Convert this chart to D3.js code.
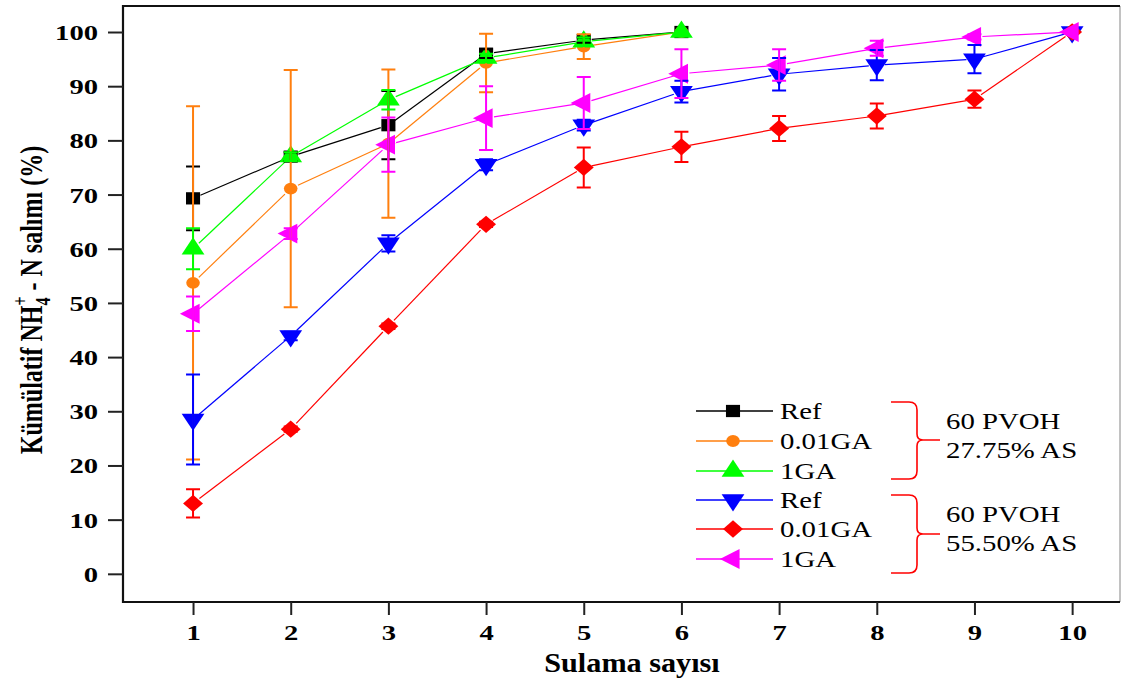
<!DOCTYPE html>
<html>
<head>
<meta charset="utf-8">
<script src="https://cdn.jsdelivr.net/npm/d3@7"></script>
<style>
	body { margin: 0; background: #fff; }
	svg { display: block; }
	text { font-family: "Liberation Serif", "Times New Roman", serif; fill: #000; }
</style>
</head>
<body>
<div id="chart"></div>
<script>
// x categories (irrigation count) and y ticks
var sulama = [1, 2, 3, 4, 5, 6, 7, 8, 9, 10];
var yTicks = [0, 10, 20, 30, 40, 50, 60, 70, 80, 90, 100];

// 60 PVOH 27.75% AS (only 6 irrigations)
var refA = [69.3, 77.0, 82.8, 96.0, 98.5, 100];
var refAErr = [5.9, 0.8, 6.3, 0.8, 0.5, 0];
var ga001A = [53.7, 71.1, 79.4, 94.3, 97.3, 100];
var ga001AErr = [32.6, 21.9, 13.7, 5.4, 2.3, 0];
var ga1A = [60.0, 77.0, 87.5, 95.2, 98.2, 100];
var ga1AErr = [3.8, 0.8, 1.8, 0.8, 0.8, 0];

// 60 PVOH 55.50% AS
var refB = [28.5, 43.9, 61.0, 75.5, 82.8, 89.0, 92.2, 93.9, 95.0, 100];
var refBErr = [8.3, 0.8, 1.5, 1.0, 1.0, 2.0, 3.0, 2.8, 2.6, 0];
var ga001B = [13.0, 26.7, 45.7, 64.5, 75.0, 78.8, 82.2, 84.5, 87.6, 100];
var ga001BErr = [2.6, 0.5, 0.5, 0.5, 3.7, 2.8, 2.3, 2.3, 1.6, 0];
var ga1B = [48.0, 62.8, 79.2, 84.1, 86.9, 92.3, 93.9, 97.0, 99.1, 100];
var ga1BErr = [3.2, 1.0, 5.0, 5.9, 4.8, 4.5, 2.9, 1.4, 0.5, 0];

var series = [
	{name: "Ref", vals: refA, err: refAErr, color: "#000000", sym: d3.symbolSquare, size: 150, rot: 0},
	{name: "0.01GA", vals: ga001A, err: ga001AErr, color: "#ff7f0e", sym: d3.symbolCircle, size: 110, rot: 0},
	{name: "1GA", vals: ga1A, err: ga1AErr, color: "#00ff00", sym: d3.symbolTriangle, size: 170, rot: 0},
	{name: "Ref", vals: refB, err: refBErr, color: "#0000ff", sym: d3.symbolTriangle, size: 170, rot: 180},
	{name: "0.01GA", vals: ga001B, err: ga001BErr, color: "#ff0000", sym: d3.symbolSquare, size: 150, rot: 45},
	{name: "1GA", vals: ga1B, err: ga1BErr, color: "#ff00ff", sym: d3.symbolTriangle, size: 170, rot: -90}
];

var W = 1123, H = 679;
var plot = {left: 123, top: 6, right: 1120, bottom: 602};

var svg = d3.select("#chart").append("svg").attr("width", W).attr("height", H);

var x = d3.scaleLinear().domain([0.283, 10.49]).range([plot.left, plot.right]);
var y = d3.scaleLinear().domain([-5.2, 104.8]).range([plot.bottom, plot.top]);

// frame
svg.append("line").attr("x1", plot.right).attr("x2", plot.right).attr("y1", plot.top).attr("y2", plot.bottom)
	.attr("stroke", "#999").attr("stroke-width", 1.2);
svg.append("path")
	.attr("d", "M" + plot.right + "," + plot.top + "H" + plot.left + "V" + plot.bottom + "H" + plot.right)
	.attr("fill", "none").attr("stroke", "#111").attr("stroke-width", 2.2);

// axes
var yAxis = svg.append("g").attr("transform", "translate(" + plot.left + ",0)")
	.call(d3.axisLeft(y).tickValues(yTicks).tickSize(15).tickFormat(d3.format("d")));
var xAxis = svg.append("g").attr("transform", "translate(0," + plot.bottom + ")")
	.call(d3.axisBottom(x).tickValues(sulama).tickSize(13).tickFormat(d3.format("d")));

[xAxis, yAxis].forEach(function(g) {
	g.select(".domain").remove();
	g.selectAll(".tick line").attr("stroke", "#222").attr("stroke-width", 2);
	g.selectAll(".tick text").attr("fill", "#000")
		.style("font-family", '"Liberation Serif", serif')
		.style("font-weight", "bold").style("font-size", "22px");
});
yAxis.selectAll(".tick text").attr("x", 0).attr("dy", "0.34em")
	.attr("transform", "translate(-25,0) scale(1.3,1)");
xAxis.selectAll(".tick text").attr("y", 38).attr("dy", 0)
	.attr("transform", "scale(1.3,1)");

// axis titles
svg.append("text").attr("text-anchor", "middle")
	.attr("transform", "translate(632,672) scale(1.08,1)")
	.style("font-weight", "bold").style("font-size", "28px").text("Sulama sayısı");

var yl = svg.append("text").attr("text-anchor", "middle")
	.attr("transform", "translate(42,300) rotate(-90) scale(1,1.35)")
	.style("font-weight", "bold").style("font-size", "24px");
yl.append("tspan").text("Kümülatif NH");
yl.append("tspan").attr("dy", 6).style("font-size", "16px").text("4");
yl.append("tspan").attr("dx", -8).attr("dy", -17).style("font-size", "16px").text("+");
yl.append("tspan").attr("dy", 11).text(" - N salımı (%)");

function symbolPath(s) {
	return d3.symbol().type(s.sym).size(s.size)();
}

// connecting lines (with small gaps around the symbols)
var gap = 8;
series.forEach(function(s) {
	var pts = s.vals.map(function(v, i) { return [x(sulama[i]), y(v)]; });
	var segs = [];
	for (var i = 0; i < pts.length - 1; i++) {
		var p0 = pts[i], p1 = pts[i + 1];
		var dx = p1[0] - p0[0], dy = p1[1] - p0[1];
		var d = Math.sqrt(dx * dx + dy * dy);
		if (d <= 2 * gap) continue;
		segs.push([p0[0] + dx / d * gap, p0[1] + dy / d * gap, p1[0] - dx / d * gap, p1[1] - dy / d * gap]);
	}
	svg.append("g").selectAll("line").data(segs).enter().append("line")
		.attr("x1", d => d[0]).attr("y1", d => d[1]).attr("x2", d => d[2]).attr("y2", d => d[3])
		.attr("stroke", s.color).attr("stroke-width", 1.2);
});

// markers
series.forEach(function(s) {
	svg.append("g").selectAll("path").data(s.vals).enter().append("path")
		.attr("d", symbolPath(s))
		.attr("transform", (v, i) => "translate(" + x(sulama[i]) + "," + y(v) + ") scale(1.15,1) rotate(" + s.rot + ")")
		.attr("fill", s.color);
});

// error bars on top
series.forEach(function(s) {
	var g = svg.append("g").attr("stroke", s.color).attr("stroke-width", 2).attr("fill", "none");
	s.vals.forEach(function(v, i) {
		var e = s.err[i];
		if (!e) return;
		var cx = x(sulama[i]), hi = y(v + e), lo = y(v - e);
		g.append("path").attr("d",
			"M" + cx + "," + hi + "V" + lo +
			"M" + (cx - 7) + "," + hi + "H" + (cx + 7) +
			"M" + (cx - 7) + "," + lo + "H" + (cx + 7));
	});
});

// legend
var legendY = [411, 441, 471, 500, 529, 559];
var leg = svg.append("g");
series.forEach(function(s, i) {
	var ly = legendY[i];
	leg.append("line").attr("x1", 696).attr("x2", 773).attr("y1", ly).attr("y2", ly)
		.attr("stroke", s.color).attr("stroke-width", 1.4);
	leg.append("path").attr("d", symbolPath(s))
		.attr("transform", "translate(733," + ly + ") scale(1.15,1) rotate(" + s.rot + ")")
		.attr("fill", s.color);
	leg.append("text").attr("transform", "translate(780," + (ly + 8) + ") scale(1.2,1)")
		.style("font-size", "24px").text(s.name);
});

// group braces
var groups = [
	{top: 402, mid: 440, bottom: 479, lines: ["60 PVOH", "27.75% AS"], ty: [429, 458]},
	{top: 495, mid: 534, bottom: 573, lines: ["60 PVOH", "55.50% AS"], ty: [522, 551]}
];
groups.forEach(function(gr) {
	var bx = 917;
	leg.append("path")
		.attr("d", "M891," + gr.top + "H" + (bx - 8) + "Q" + bx + "," + gr.top + " " + bx + "," + (gr.top + 8) +
			"V" + (gr.mid - 6) + "Q" + bx + "," + gr.mid + " " + (bx + 6) + "," + gr.mid + "H940" +
			"M" + (bx + 6) + "," + gr.mid + "Q" + bx + "," + gr.mid + " " + bx + "," + (gr.mid + 6) +
			"V" + (gr.bottom - 8) + "Q" + bx + "," + gr.bottom + " " + (bx - 8) + "," + gr.bottom + "H891")
		.attr("fill", "none").attr("stroke", "#ff0000").attr("stroke-width", 1.6);
	gr.lines.forEach(function(t, j) {
		leg.append("text").attr("transform", "translate(946," + gr.ty[j] + ") scale(1.2,1)")
			.style("font-size", "24px").text(t);
	});
});
</script>
</body>
</html>
